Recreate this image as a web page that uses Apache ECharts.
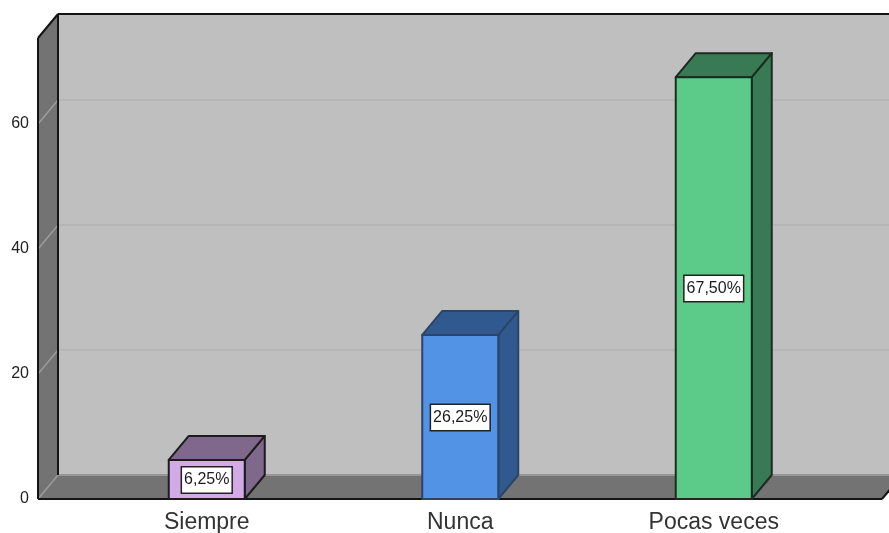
<!DOCTYPE html>
<html>
<head>
<meta charset="utf-8">
<style>html,body{margin:0;padding:0;background:#fff;overflow:hidden}#c{width:889px;height:533px}</style>
<script src="https://cdn.jsdelivr.net/npm/echarts@6/dist/echarts.min.js"></script>
</head>
<body>
<div id="c"></div>
<script>
const categories = ['Siempre', 'Nunca', 'Pocas veces'];
const values = [6.25, 26.25, 67.5];
const valueLabels = ['6,25%', '26,25%', '67,50%'];
const yTicks = [0, 20, 40, 60];
const yMax = 73.76;
const frontColors = ['#d1aae6', '#5393e6', '#5ccb8a'];
const darkColors = ['#7f688c', '#30598f', '#387a53'];
const edgeColors = ['#1c1c1c', '#2c4468', '#1c2c22'];

const DX = 20, DY = 24, BAR_W = 76;
const WALL_L = 38, WALL_R = 882;

const chart = echarts.init(document.getElementById('c'), null, {renderer: 'canvas'});

function poly(points, fill, stroke, lw) {
  return {type: 'polygon', shape: {points}, style: {fill, stroke: stroke || 'none', lineWidth: lw || 0, lineJoin: 'round'}};
}
function seg(x1, y1, x2, y2, stroke, lw) {
  return {type: 'line', shape: {x1, y1, x2, y2}, style: {stroke, lineWidth: lw}};
}

function renderWalls(params, api) {
  const y0 = api.coord([0, 0])[1];
  const yT = api.coord([0, yMax])[1];
  const kids = [];
  const wall = '#bfbfbf', dark = '#737373';
  kids.push(poly([[WALL_L + DX, yT - DY], [WALL_R + DX, yT - DY], [WALL_R + DX, y0 - DY], [WALL_L + DX, y0 - DY]], wall));
  kids.push(poly([[WALL_L, yT], [WALL_L + DX, yT - DY], [WALL_L + DX, y0 - DY], [WALL_L, y0]], dark));
  kids.push(poly([[WALL_L, y0], [WALL_L + DX, y0 - DY], [WALL_R + DX, y0 - DY], [WALL_R, y0]], dark));
  yTicks.forEach(function (t) {
    const y = api.coord([0, t])[1];
    kids.push(seg(WALL_L, y, WALL_L + DX, y - DY, '#9c9c9c', 1.5));
    kids.push(seg(WALL_L + DX, y - DY, WALL_R + DX, y - DY, t > 0 ? '#adadad' : '#979797', t > 0 ? 1.2 : 2));
  });
  const black = '#141414';
  kids.push(seg(WALL_L, yT, WALL_L, y0, black, 2));
  kids.push(seg(WALL_L, yT, WALL_L + DX, yT - DY, black, 2));
  kids.push(seg(WALL_L + DX, yT - DY, WALL_L + DX, y0 - DY, black, 2));
  kids.push(seg(WALL_L + DX, yT - DY, WALL_R + DX, yT - DY, black, 2));
  kids.push(seg(WALL_L, y0, WALL_R, y0, black, 2));
  kids.push(seg(WALL_R, y0, WALL_R + DX, y0 - DY, black, 2));
  return {type: 'group', children: kids};
}

function renderBar(params, api) {
  const i = params.dataIndex;
  const base = api.coord([api.value(0), 0]);
  const top = api.coord([api.value(0), api.value(1)]);
  const l = base[0] - BAR_W / 2, r = base[0] + BAR_W / 2, t = top[1], b = base[1];
  const edge = edgeColors[i];
  return {type: 'group', children: [
    poly([[r, t], [r + DX, t - DY], [r + DX, b - DY], [r, b]], darkColors[i], edge, 2),
    poly([[l, t], [l + DX, t - DY], [r + DX, t - DY], [r, t]], darkColors[i], edge, 2),
    poly([[l, t], [r, t], [r, b], [l, b]], frontColors[i], edge, 2),
    {type: 'text', style: {
      text: valueLabels[i], x: base[0], y: (t + b) / 2 + 0.5, align: 'center', verticalAlign: 'middle',
      font: '16px "Liberation Sans", Arial, sans-serif', fill: '#1c1c1c',
      backgroundColor: '#fff', borderColor: '#222', borderWidth: 1.5, padding: [5, 2, 4, 2]
    }}
  ]};
}

chart.setOption({
  animation: false,
  backgroundColor: '#ffffff',
  grid: {left: 80, right: 48.5, top: 38, bottom: 34, outerBoundsMode: 'none'},
  xAxis: {
    type: 'category', data: categories,
    axisLine: {show: false}, axisTick: {show: false},
    axisLabel: {fontFamily: '"Liberation Sans", Arial, sans-serif', fontSize: 23, color: '#333', margin: 12}
  },
  yAxis: {
    type: 'value', min: 0, max: yMax, interval: 20,
    splitLine: {show: false}, axisLine: {show: false}, axisTick: {show: false},
    axisLabel: {showMaxLabel: false, verticalAlignMinLabel: 'middle', fontFamily: '"Liberation Sans", Arial, sans-serif', fontSize: 16, color: '#222', margin: 51, padding: [4, 0, 0, 0]}
  },
  series: [
    {type: 'custom', name: 'walls', renderItem: renderWalls, data: [[0, 0]], silent: true, z: 1, clip: false},
    {type: 'custom', name: 'bars', renderItem: renderBar, data: categories.map((c, i) => [i, values[i]]), z: 2, clip: false}
  ]
});
</script>
</body>
</html>
